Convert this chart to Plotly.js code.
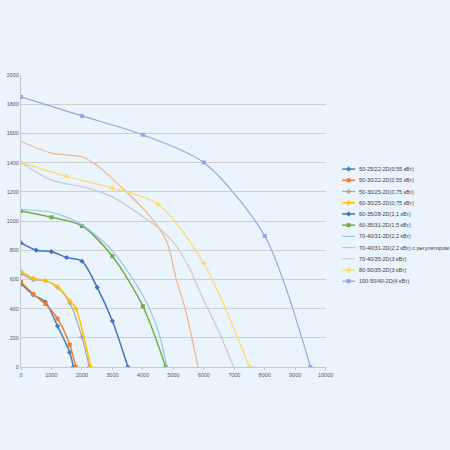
<!DOCTYPE html>
<html><head><meta charset="utf-8">
<script src="https://cdn.plot.ly/plotly-3.0.1.min.js"></script>
<style>html,body{margin:0;padding:0;background:#eaf4fd;}#chart{width:450px;height:450px;}</style>
</head><body><div id="chart"></div>
<script>
const names = [
  "50-25/22-2D(0,55 кВт)",
  "50-30/22-2D(0,55 кВт)",
  "50-30/25-2D(0,75 кВт)",
  "60-30/25-2D(0,75 кВт)",
  "60-35/28-2D(1,1 кВт)",
  "60-35/31-2D(1,5 кВт)",
  "70-40/31-2D(2,2 кВт)",
  "70-40/31-2D(2,2 кВт) с регулятором",
  "70-40/35-2D(3 кВт)",
  "80-50/35-2D(3 кВт)",
  "100-50/40-2D(4 кВт)"
];
const xTicks = [0,1000,2000,3000,4000,5000,6000,7000,8000,9000,10000];
const xTickText = ["0","1000","2000","3000","4000","5000","6000","7000","8000","9000","10000"];
const yTicks = [0,200,400,600,800,1000,1200,1400,1600,1800,2000];

const x1 = [0, 400, 800, 1200, 1600, 1720];
const y1 = [570, 495, 445, 280, 100, 0];
const x2 = [0, 400, 800, 1200, 1600, 1800];
const y2 = [582, 500, 431, 331, 153, 0];
const x3 = [0, 400, 800, 1200, 1600, 2000, 2240];
const y3 = [640, 598, 591, 545, 440, 205, 0];
const x4 = [0, 400, 800, 1200, 1600, 1800, 2290];
const y4 = [655, 608, 591, 550, 455, 400, 0];
const x5 = [0, 500, 1000, 1500, 2000, 2500, 3000, 3510];
const y5 = [850, 800, 790, 750, 725, 545, 315, 0];
const x6 = [0, 1000, 2000, 3000, 4000, 4750];
const y6 = [1068, 1025, 966, 758, 416, 0];
const x7 = [0, 1000, 2000, 3000, 4000, 4500, 4790];
const y7 = [1077, 1060, 975, 795, 490, 250, 0];
const x8 = [0, 1000, 2000, 2500, 3000, 3500, 4000, 4500, 4800, 5100, 5400, 5810];
const y8 = [1545, 1465, 1440, 1380, 1290, 1190, 1088, 960, 850, 600, 390, 0];
const x9 = [0, 1000, 2000, 3000, 4000, 4500, 5000, 5500, 6000, 6500, 6980];
const y9 = [1400, 1280, 1235, 1165, 1030, 955, 855, 690, 455, 240, 0];
const x10 = [0, 1500, 3000, 4500, 6000, 7500];
const y10 = [1400, 1305, 1225, 1115, 710, 0];
const x11 = [0, 2000, 4000, 6000, 8000, 9500];
const y11 = [1850, 1720, 1590, 1400, 897, 0];

const xs = [x1,x2,x3,x4,x5,x6,x7,x8,x9,x10,x11];
const ys = [y1,y2,y3,y4,y5,y6,y7,y8,y9,y10,y11];
const colors = ["#4a7ebb","#ed7d31","#a5a5a5","#ffc000","#4472c4","#70ad47","#9dc3e6","#f4b183","#c9c9c9","#ffd966","#8faadc"];
const symbols = ["diamond","square","cross","cross","diamond","square",null,null,null,"cross","square"];
const widths = [1.5,1.5,1.2,1.5,1.5,1.5,1.2,1.2,1.2,1.2,1.2];

const traces = names.map((n,i)=>{
  const t = {
    type:"scatter", x:xs[i], y:ys[i], name:n, showlegend:false,
    xaxis:"x", yaxis:"y",
    mode: symbols[i] ? "lines+markers" : "lines",
    line:{color:colors[i], width:widths[i], shape:"spline", smoothing:0.8}
  };
  if (symbols[i]) t.marker = {symbol:symbols[i], size:4, color:colors[i]};
  return t;
});

// custom compact legend (pixel-space overlay axis)
const legTop = 169, legStep = 11.2, legX0 = 342, legX1 = 355;
const annotations = [];
names.forEach((n,i)=>{
  const yy = legTop + i*legStep;
  traces.push({
    type:"scatter", x:[legX0,legX1], y:[yy,yy], showlegend:false,
    xaxis:"x2", yaxis:"y2", mode:"lines",
    line:{color:colors[i], width:widths[i]}, cliponaxis:false
  });
  if (symbols[i]) traces.push({
    type:"scatter", x:[(legX0+legX1)/2], y:[yy], showlegend:false,
    xaxis:"x2", yaxis:"y2", mode:"markers",
    marker:{symbol:symbols[i], size:4, color:colors[i]}, cliponaxis:false
  });
  annotations.push({xref:"x2", yref:"y2", x:legX1+2, y:yy, text:n, showarrow:false,
    xanchor:"left", yanchor:"middle", font:{family:"Liberation Sans, Arial", size:5.5, color:"#404040"}});
});

const plotW = 305, paperW = 450 - 20.5;
const layout = {
  width:450, height:450,
  paper_bgcolor:"#eaf4fd", plot_bgcolor:"rgba(0,0,0,0)",
  margin:{l:20.5, r:0, t:75, b:83.3, autoexpand:false},
  showlegend:false,
  annotations: annotations,
  xaxis:{domain:[0, plotW/paperW], anchor:"y", range:[0,10000], tickvals:xTicks, ticktext:xTickText,
         showgrid:false, zeroline:false, showline:true, linecolor:"#c8c8c8", linewidth:1,
         ticks:"outside", ticklen:2, tickcolor:"#c8c8c8",
         tickfont:{family:"Liberation Sans, Arial", size:5.5, color:"#595959"}, fixedrange:true},
  yaxis:{domain:[0,1], anchor:"x", range:[0,2000], tickvals:yTicks,
         showgrid:true, gridcolor:"#cfcfcf", gridwidth:1, zeroline:false, showline:true, linecolor:"#c8c8c8", linewidth:1,
         ticks:"", tickfont:{family:"Liberation Sans, Arial", size:5.5, color:"#595959"}, fixedrange:true},
  xaxis2:{domain:[0,1], anchor:"y2", range:[20.5,450], visible:false, fixedrange:true},
  yaxis2:{domain:[0,1], anchor:"x2", range:[366.7,75], visible:false, fixedrange:true}
};
Plotly.newPlot("chart", traces, layout, {displayModeBar:false, staticPlot:true});
</script></body></html>
